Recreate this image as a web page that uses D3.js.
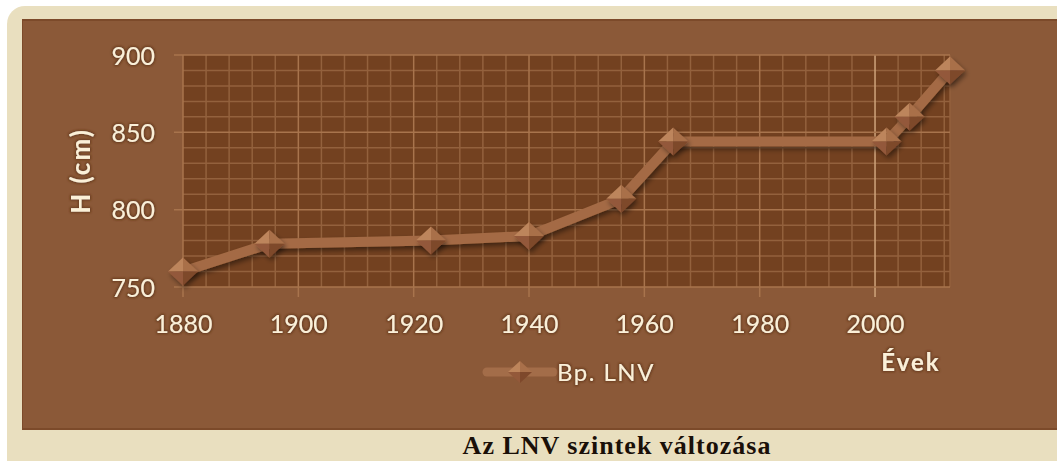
<!DOCTYPE html>
<html><head><meta charset="utf-8">
<script src="https://cdn.jsdelivr.net/npm/d3@7/dist/d3.min.js"></script>
<style>
html,body{margin:0;padding:0;background:#fff;}
svg{display:block;}
</style></head>
<body>
<svg id="c" width="1057" height="461"></svg>
<script>
const years = [1880, 1895, 1923, 1940, 1956, 1965, 2002, 2006, 2013];
const levels = [760, 778, 780, 783, 807, 844, 844, 860, 890];
const xTicks = [1880, 1900, 1920, 1940, 1960, 1980, 2000];
const yTicks = [750, 800, 850, 900];
const seriesName = "Bp. LNV";
const xTitle = "Évek";
const yTitle = "H (cm)";
const caption = "Az LNV szintek változása";

const svg = d3.select("#c");
const W = 1057, H = 461;
const defs = svg.append("defs");
const sh = defs.append("filter").attr("id","sh").attr("x","-50%").attr("y","-50%").attr("width","200%").attr("height","200%");
sh.append("feGaussianBlur").attr("in","SourceAlpha").attr("stdDeviation",2.5).attr("result","b");
sh.append("feOffset").attr("dx",2).attr("dy",3).attr("result","o");
sh.append("feComponentTransfer").append("feFuncA").attr("type","linear").attr("slope",0.45);
const m = sh.append("feMerge"); m.append("feMergeNode"); m.append("feMergeNode").attr("in","SourceGraphic");
const glow = defs.append("filter").attr("id","glow").attr("x","-20%").attr("y","-20%").attr("width","140%").attr("height","140%");
glow.append("feMorphology").attr("in","SourceAlpha").attr("operator","dilate").attr("radius",1).attr("result","d");
glow.append("feGaussianBlur").attr("in","d").attr("stdDeviation",0.8).attr("result","b");
glow.append("feFlood").attr("flood-color","#5a2f14").attr("flood-opacity",0.7);
glow.append("feComposite").attr("in2","b").attr("operator","in").attr("result","g");
const gm = glow.append("feMerge"); gm.append("feMergeNode").attr("in","g"); gm.append("feMergeNode").attr("in","SourceGraphic");

// frame
svg.append("rect").attr("x",7).attr("y",6).attr("width",W+20).attr("height",H+20).attr("rx",18).attr("fill","#e9dfbf");
svg.append("rect").attr("x",22).attr("y",19).attr("width",W).attr("height",411).attr("fill","#7c4a2a");
svg.append("rect").attr("x",23).attr("y",21).attr("width",W).attr("height",407).attr("fill","#8b5938");

const x = d3.scaleLinear().domain([1880, 2013]).range([183, 950]);
const y = d3.scaleLinear().domain([750, 900]).range([287, 55]);

// plot area
svg.append("rect").attr("x",x(1880)).attr("y",y(900)).attr("width",x(2013)-x(1880)).attr("height",y(750)-y(900)).attr("fill","#734120");

const g = svg.append("g");
const minorX = d3.range(1884, 2013, 4).filter(v => v % 20 !== 0);
const minorY = d3.range(760, 900, 10).filter(v => v % 50 !== 0);
g.selectAll("line.mx").data(minorX).join("line").attr("class","mx")
  .attr("x1",d=>x(d)).attr("x2",d=>x(d)).attr("y1",y(900)).attr("y2",y(750))
  .attr("stroke","#93613d").attr("stroke-width",1.5);
g.selectAll("line.my").data(minorY).join("line").attr("class","my")
  .attr("x1",x(1880)).attr("x2",x(2013)).attr("y1",d=>y(d)).attr("y2",d=>y(d))
  .attr("stroke","#93613d").attr("stroke-width",1.5);
g.append("line").attr("x1",x(2013)).attr("x2",x(2013)).attr("y1",y(900)).attr("y2",y(750)).attr("stroke","#93613d").attr("stroke-width",1.5);
g.selectAll("line.Mx").data(xTicks).join("line").attr("class","Mx")
  .attr("x1",d=>x(d)).attr("x2",d=>x(d)).attr("y1",y(900)).attr("y2",y(750)+10)
  .attr("stroke",d=> d===2000 ? "#cfa47c" : "#a8744d").attr("stroke-width",1.5);
g.selectAll("line.My").data(yTicks).join("line").attr("class","My")
  .attr("x1",x(1880)-9).attr("x2",x(2013)).attr("y1",d=>y(d)).attr("y2",d=>y(d))
  .attr("stroke","#a8744d").attr("stroke-width",1.5);

const fontS = "Lato, 'Open Sans', sans-serif";
const xa = svg.append("g").attr("transform",`translate(0,${y(750)})`)
  .call(d3.axisBottom(x).tickValues(xTicks).tickFormat(d3.format("d")).tickSize(0).tickPadding(46));
const ya = svg.append("g").attr("transform",`translate(${x(1880)},0)`)
  .call(d3.axisLeft(y).tickValues(yTicks).tickFormat(d3.format("d")).tickSize(0).tickPadding(28));
[xa, ya].forEach(a => {
  a.select(".domain").remove();
  a.selectAll("text").attr("fill","#fbf0d8").style("font-family",fontS).style("font-size","25px").attr("filter","url(#glow)");
});
xa.selectAll("text").attr("dy","0");
ya.selectAll("text").attr("dy","0.36em");

const line = d3.line().x((d,i)=>x(years[i])).y(d=>y(d));
svg.append("path").datum(levels).attr("d",line).attr("fill","none")
  .attr("stroke","#a46b45").attr("stroke-width",10).attr("stroke-linejoin","round").attr("filter","url(#sh)");

function diamond(sel, w, h){
  const hw=w/2, hh=h/2;
  sel.append("path").attr("d",`M0,${-hh}L${-hw},0L0,0Z`).attr("fill","#bd855b");
  sel.append("path").attr("d",`M0,${-hh}L${hw},0L0,0Z`).attr("fill","#a9704a");
  sel.append("path").attr("d",`M${-hw},0L0,${hh}L0,0Z`).attr("fill","#93593a");
  sel.append("path").attr("d",`M${hw},0L0,${hh}L0,0Z`).attr("fill","#7e482b");
}
const mk = svg.selectAll("g.mk").data(levels).join("g").attr("class","mk")
  .attr("transform",(d,i)=>`translate(${x(years[i])},${y(d)})`).attr("filter","url(#sh)");
mk.each(function(){ diamond(d3.select(this), 30, 28); });

svg.append("text").attr("transform","translate(90,171) rotate(-90)").attr("text-anchor","middle")
  .attr("fill","#fbf0d8").style("font-family",fontS).style("font-size","26px").style("font-weight","bold")
  .style("letter-spacing","2px").attr("filter","url(#glow)").text(yTitle);
svg.append("text").attr("x",911).attr("y",371).attr("text-anchor","middle")
  .attr("fill","#fbf0d8").style("font-family",fontS).style("font-size","24px").style("font-weight","bold")
  .style("letter-spacing","2px").attr("filter","url(#glow)").text(xTitle);

const lg = svg.append("g").attr("transform","translate(487,372)");
lg.append("line").attr("x1",0).attr("x2",66).attr("y1",0).attr("y2",0).attr("stroke","#a8714c").attr("stroke-width",9).attr("stroke-linecap","round").attr("opacity",0.85);
const ld = lg.append("g").attr("transform","translate(33,0)");
diamond(ld, 24, 22);
lg.append("text").attr("x",70).attr("y",0).attr("dy","0.36em").attr("fill","#fbf0d8")
  .style("font-family",fontS).style("font-size","24px").style("letter-spacing","1.5px").attr("filter","url(#glow)").text(seriesName);

svg.append("text").attr("x",617).attr("y",454).attr("text-anchor","middle").attr("fill","#1a1008")
  .style("font-family","'Liberation Serif', 'Times New Roman', serif").style("font-size","26px").style("font-weight","bold")
  .style("letter-spacing","1px").text(caption);
</script>
</body></html>
